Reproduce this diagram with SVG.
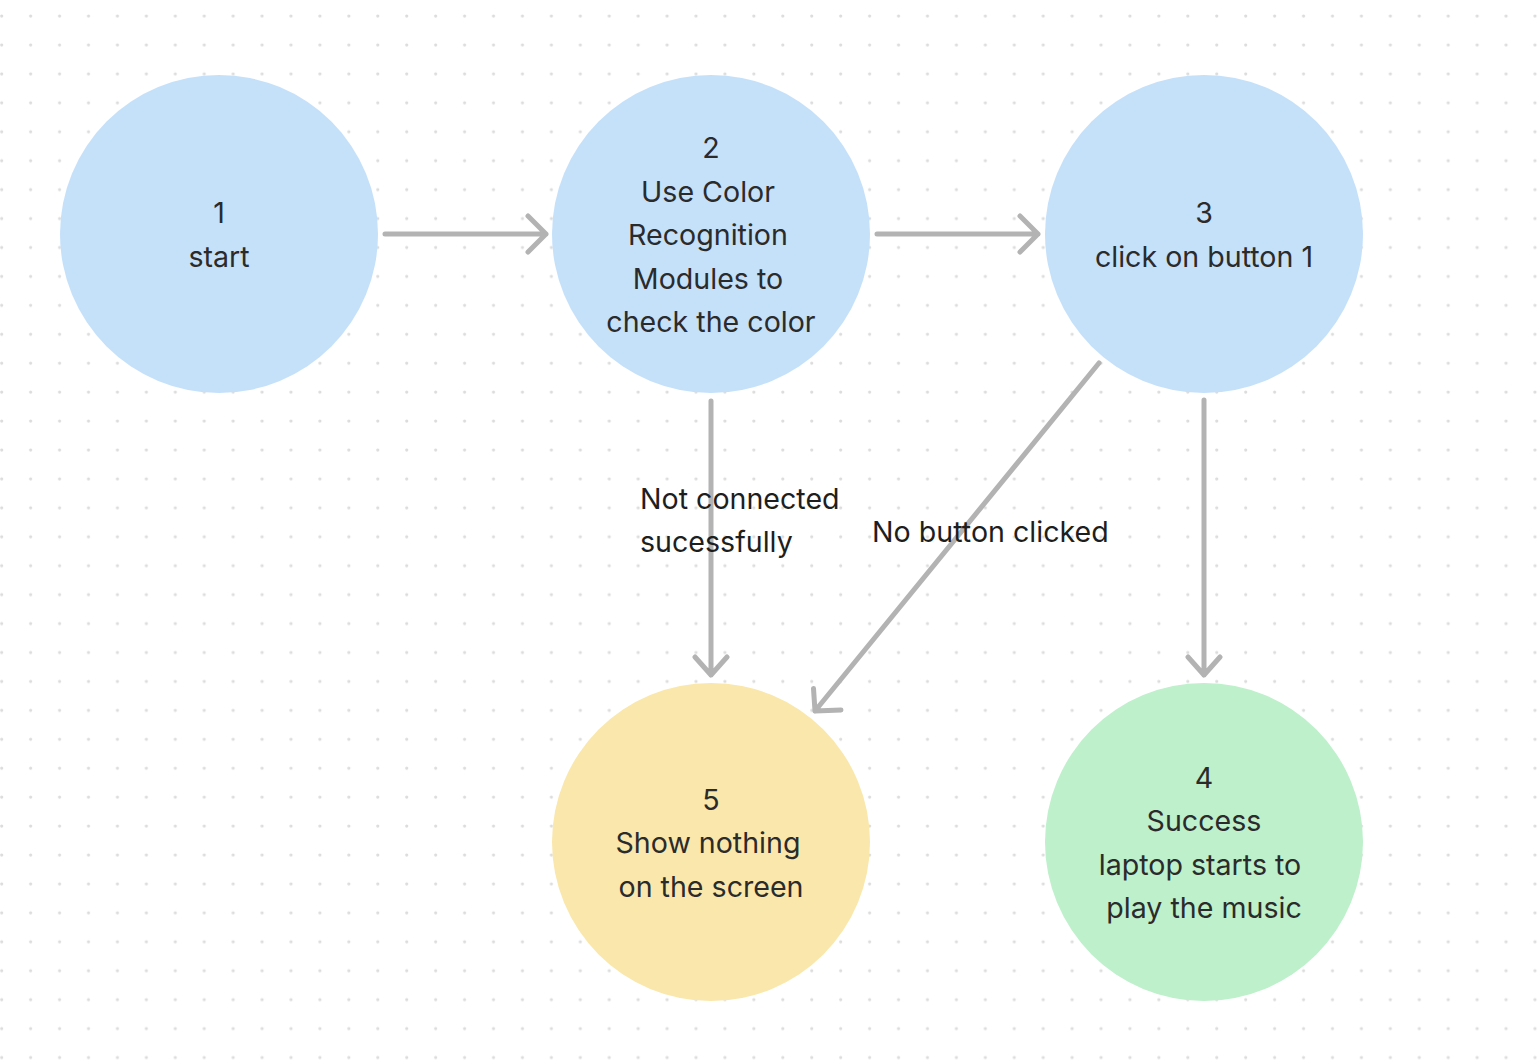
<svg xmlns="http://www.w3.org/2000/svg" width="1540" height="1062" viewBox="0 0 1540 1062">
<defs>
<pattern id="dots" x="0" y="0" width="28.93" height="28.93" patternUnits="userSpaceOnUse">
<circle cx="1.7" cy="16" r="1.6" fill="#dcdcdc"/>
</pattern>
<style>
.node-text{font-family:Inter,"Noto Sans","Liberation Sans",sans-serif;font-size:28.6px;fill:#2b2b2b;text-anchor:middle}
.label{font-family:Inter,"Noto Sans","Liberation Sans",sans-serif;font-size:28.6px;fill:#1e1e1e}
.conn{fill:none;stroke:#b3b3b3;stroke-width:5;stroke-linecap:round;stroke-linejoin:round}
.blue{fill:#c5e1fa}
.yellow{fill:#fae7ab}
.green{fill:#bdf0cb}
</style>
</defs>
<rect width="1540" height="1062" fill="#ffffff"/>
<rect width="1540" height="1062" fill="url(#dots)"/>
<g id="connectors">
<path class="conn" d="M385 234 L546 234 M528 216 L546 234 L528 252"/>
<path class="conn" d="M877 234 L1038 234 M1020 216 L1038 234 L1020 252"/>
<path class="conn" d="M711 401 L711 675 M695 657 L711 675 L727 657"/>
<path class="conn" d="M1204 400 L1204 675 M1188 657 L1204 675 L1220 657"/>
<path class="conn" d="M1099 363 L815 711 M813.5 688.5 L815 711 L841 710"/>
</g>
<g id="node1">
<circle class="blue" cx="219" cy="234" r="159"/>
<text class="node-text" x="219" y="223">1</text>
<text class="node-text" x="219" y="266.5">start</text>
</g>
<g id="node2">
<circle class="blue" cx="711" cy="234" r="159"/>
<text class="node-text" x="711" y="158">2</text>
<text class="node-text" x="708" y="201.5">Use Color</text>
<text class="node-text" x="708" y="245">Recognition</text>
<text class="node-text" x="708" y="288.5">Modules to</text>
<text class="node-text" x="711" y="332">check the color</text>
</g>
<g id="node3">
<circle class="blue" cx="1204" cy="234" r="159"/>
<text class="node-text" x="1204" y="223">3</text>
<text class="node-text" x="1204" y="266.5">click on button 1</text>
</g>
<g id="node5">
<circle class="yellow" cx="711" cy="842" r="159"/>
<text class="node-text" x="711" y="809.5">5</text>
<text class="node-text" x="708" y="853">Show nothing</text>
<text class="node-text" x="711" y="896.5">on the screen</text>
</g>
<g id="node4">
<circle class="green" cx="1204" cy="842" r="159"/>
<text class="node-text" x="1204" y="787.5">4</text>
<text class="node-text" x="1204" y="831">Success</text>
<text class="node-text" x="1200" y="874.5">laptop starts to</text>
<text class="node-text" x="1204" y="918">play the music</text>
</g>
<g id="labels">
<text class="label" x="640" y="508.5">Not connected</text>
<text class="label" x="640" y="552">sucessfully</text>
<text class="label" x="872" y="542">No button clicked</text>
</g>
</svg>
